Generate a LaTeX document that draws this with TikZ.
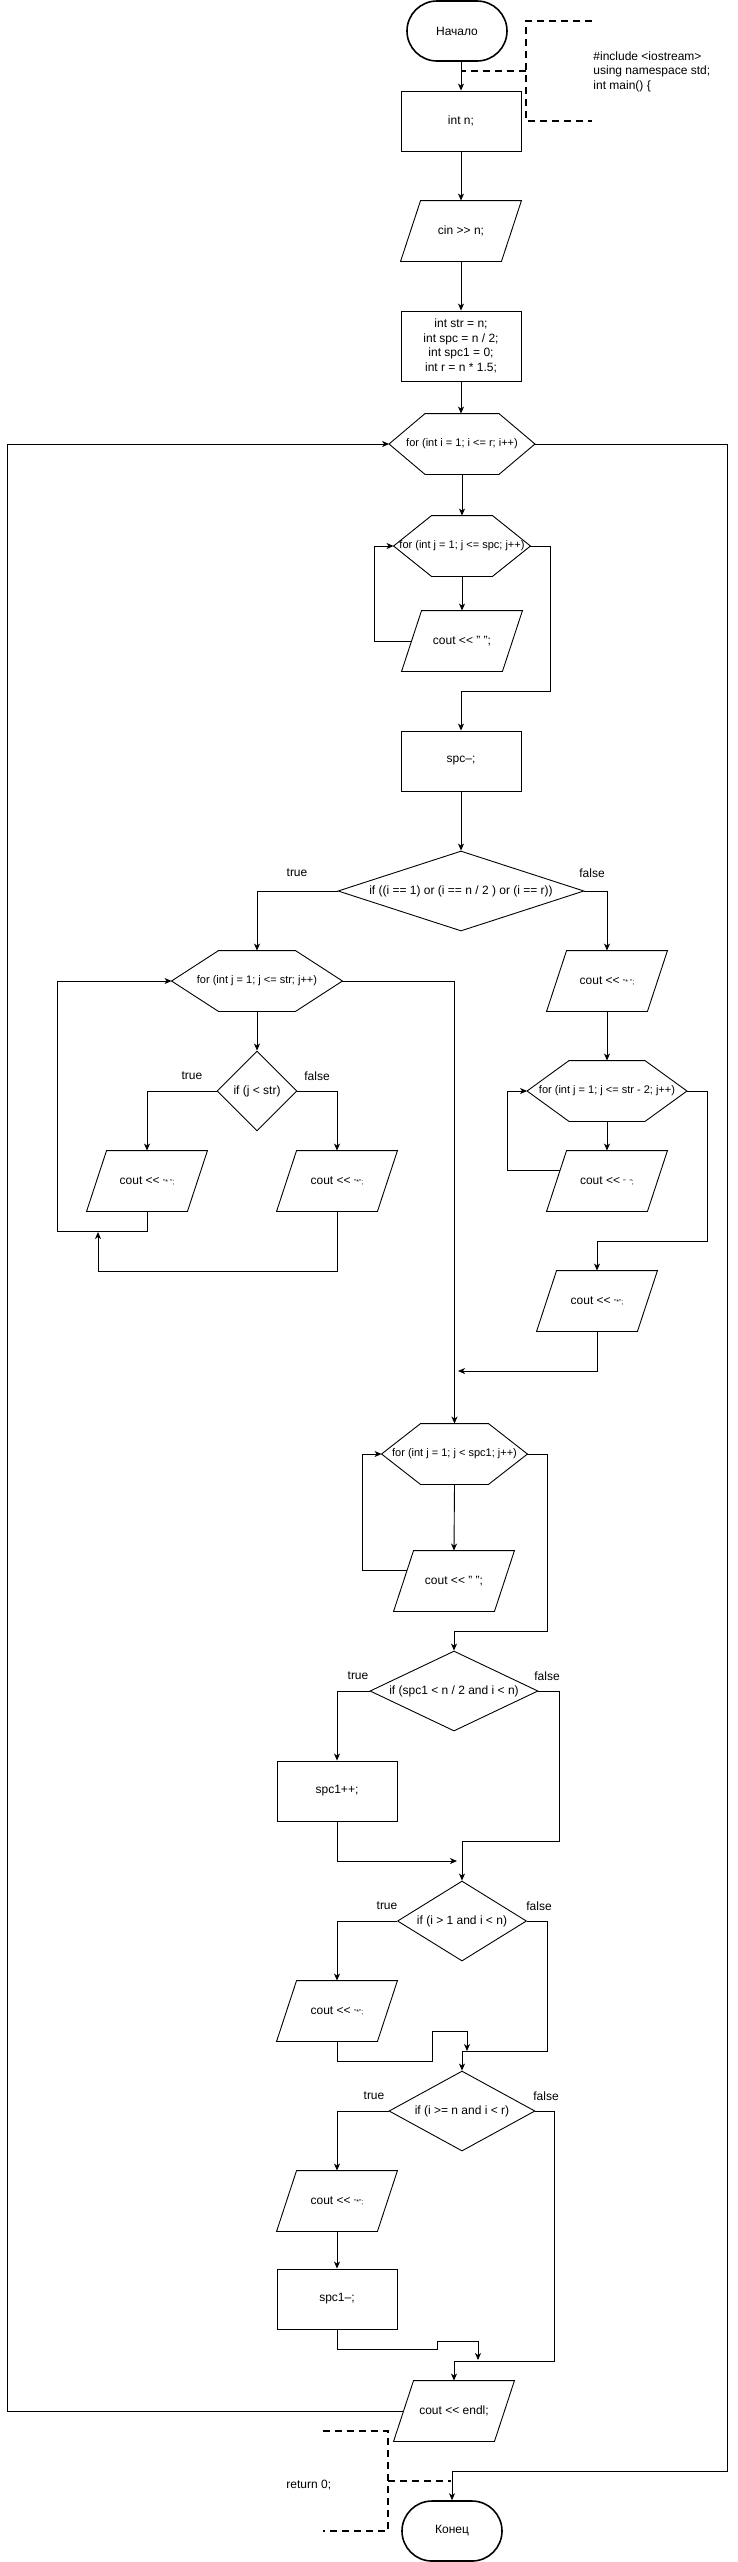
\documentclass[tikz,border=0pt]{standalone}
\usepackage{fontspec}
\setmainfont{Liberation Sans}
\usetikzlibrary{shapes.geometric,arrows.meta,calc}
\newcommand{\smlit}[1]{{\fontsize{7}{8}\selectfont #1}}
\newcommand{\shl}{<\kern0pt<}
\newcommand{\shr}{>\kern0pt>}
\tikzset{
  every node/.style={font=\fontsize{12}{14.5}\selectfont, inner sep=0pt},
  term/.style={draw, rounded corners=30pt, minimum width=100pt, minimum height=60pt, line width=1.6pt},
  proc/.style={draw, minimum width=120pt, minimum height=60pt},
  para/.style={minimum width=120pt, minimum height=60pt},
  hexn/.style={minimum width=#1, minimum height=60pt, font=\fontsize{11}{13}\selectfont},
  dec/.style={draw, diamond},
  arr/.style={-{Stealth[length=7pt,width=6pt,inset=2pt]}},
  dsh/.style={line width=1.8pt, dash pattern=on 7pt off 5pt},
}
\begin{document}
\begin{tikzpicture}[x=1pt,y=-1pt,line width=0.9pt]
\useasboundingbox (0,0) rectangle (738,2562);
% nodes
\node[term] (start) at (457,31) {Начало};
\node[proc] (intn) at (461,121) {int n;};
\node[para] (cin) at (461,231) {cin \shr{} n;};
\node[proc, minimum height=70pt, align=center] (init) at (461,346) {int str = n;\\int spc = n / 2;\\int spc1 = 0;\\int r = n * 1.5;};
\node[hexn=145pt] (fori) at (462,444) {for (int i = 1; i <= r; i++)};
\node[hexn=136pt] (forj1) at (462,546) {for (int j = 1; j <= spc; j++)};
\node[para] (p1) at (462,641) {cout \shl{} " ";};
\node[proc] (spcdec) at (461,761) {spc--;};
\node[dec, minimum width=246pt, minimum height=80pt, aspect=3.075] (d1) at (461,891) {if ((i == 1) or (i == n / 2 ) or (i == r))};
\node[hexn=170pt] (forj2) at (257,981) {for (int j = 1; j <= str; j++)};
\node[dec, minimum width=80pt, minimum height=80pt, aspect=1] (d2) at (257,1091) {if (j < str)};
\node[para] (p2) at (147,1181) {cout \shl{} \smlit{"* ";}};
\node[para] (p3) at (337,1181) {cout \shl{} \smlit{"*";}};
\node[para] (p4) at (607,981) {cout \shl{} \smlit{"* ";}};
\node[hexn=159pt] (forj3) at (607,1091) {for (int j = 1; j <= str - 2; j++)};
\node[para] (p5) at (607,1181) {cout \shl{} \smlit{"~~";}};
\node[para] (p6) at (597,1301) {cout \shl{} \smlit{"*";}};
\node[hexn=145pt] (forj4) at (454.5,1454) {for (int j = 1; j < spc1; j++)};
\node[para] (p7) at (454,1581) {cout \shl{} " ";};
\node[dec, minimum width=168pt, minimum height=80pt, aspect=2.1] (d3) at (454,1691) {if (spc1 < n / 2 and i < n)};
\node[proc] (spcinc) at (337,1791) {spc1++;};
\node[dec, minimum width=129pt, minimum height=80pt, aspect=1.61] (d4) at (462,1921) {if (i > 1 and i < n)};
\node[para] (p8) at (337,2011) {cout \shl{} \smlit{"*";}};
\node[dec, minimum width=146pt, minimum height=80pt, aspect=1.825] (d5) at (462,2111) {if (i >= n and i < r)};
\node[para] (p9) at (337,2201) {cout \shl{} \smlit{"*";}};
\node[proc] (spcdec2) at (337,2299) {spc1--;};
\node[para] (endl) at (454,2411) {cout \shl{} endl;};
\node[term] (end) at (452,2531) {Конец};
% comments
\node[anchor=west, align=left] (inc) at (593,71.5) {\#include <iostream>\\using namespace std;\\int main() \{};
\node[anchor=west] (ret) at (286,2485) {return 0;};
% labels
\node (t1) at (297,873) {true};
\node (f1) at (592,873) {false};
\node (t2) at (192,1076) {true};
\node (f2) at (317,1076) {false};
\node (t3) at (358,1676) {true};
\node (f3) at (547,1676) {false};
\node (t4) at (387,1906) {true};
\node (f4) at (539,1906) {false};
\node (t5) at (374,2096) {true};
\node (f5) at (546,2096) {false};
% shapes drawn around nodes
\foreach \n/\d in {fori/36,forj1/38,forj2/47,forj3/42,forj4/39}
  \draw ([xshift=\d pt]\n.north west) -- ([xshift=-\d pt]\n.north east) -- (\n.east)
     -- ([xshift=-\d pt]\n.south east) -- ([xshift=\d pt]\n.south west) -- (\n.west) -- cycle;
\foreach \n in {cin,p1,p2,p3,p4,p5,p6,p7,p8,p9,endl}
  \draw ([xshift=20pt]\n.north west) -- (\n.north east) -- ([xshift=-20pt]\n.south east) -- (\n.south west) -- cycle;
% connectors
\draw[arr] (start.south -| intn.north) -- (intn.north);
\draw[arr] (intn.south) -- (cin.north);
\draw[arr] (cin.south) -- (init.north);
\draw[arr] (init.south) -- (init.south |- fori.north);
\draw[arr] (fori.south) -- (forj1.north);
\draw[arr] (forj1.south) -- (p1.north);
\draw[arr] ([xshift=10pt]p1.west) -- (374,641) |- (forj1.west);
\draw[arr] (forj1.east) -- (550,546) |- (461,691) -- (spcdec.north);
\draw[arr] (spcdec.south) -- (d1.north);
\draw[arr] (d1.west) -| (forj2.north);
\draw[arr] (d1.east) -| (p4.north);
\draw[arr] (forj2.south) -- (d2.north);
\draw[arr] (d2.west) -| (p2.north);
\draw[arr] (d2.east) -| (p3.north);
\draw[arr] (p2.south) -- (147,1231) -- (57,1231) |- (forj2.west);
\draw[arr] (p3.south) |- (98,1271) -- (98,1232);
\draw[arr] (forj2.east) -| (forj4.north);
\draw[arr] (p4.south) -- (forj3.north);
\draw[arr] (forj3.south) -- (p5.north);
\draw[arr] ([xshift=13.7pt,yshift=11pt]p5.west) -- (507,1170) |- (forj3.west);
\draw[arr] (forj3.east) -| (707,1241) -| (p6.north);
\draw[arr] (p6.south) |- (458,1371);
\draw[arr] (forj4.south) -- (p7.north);
\draw[arr] ([xshift=13.7pt,yshift=11pt]p7.west) -- (362,1570) |- (forj4.west);
\draw[arr] (forj4.east) -| (547,1631) -| (d3.north);
\draw[arr] (d3.west) -| (spcinc.north);
\draw[arr] (d3.east) -| (559,1841) -| (d4.north);
\draw[arr] (spcinc.south) |- (457,1861);
\draw[arr] (d4.west) -| (p8.north);
\draw[arr] (p8.south) |- (432,2061) |- (467,2031) -- (467,2051);
\draw[arr] (d4.east) -| (547,2051) -| (d5.north);
\draw[arr] (d5.west) -| (p9.north);
\draw[arr] (p9.south) -- (spcdec2.north);
\draw[arr] (spcdec2.south) |- (437,2349) |- (478,2341) -- (478,2360);
\draw[arr] (d5.east) -| (554,2361) -| (endl.north);
\draw[arr] ([xshift=10pt]endl.west) -- (7,2411) |- (fori.west);
\draw[arr] (fori.east) -| (727,2471) -| (end.north);
% dashed comment brackets
\draw[dsh] (592,21) -- (526,21) -- (526,121) -- (592,121);
\draw[dsh] (526,71) -- (461,71);
\draw[dsh] (323,2431) -- (388,2431) -- (388,2531) -- (323,2531);
\draw[dsh] (388,2481) -- (451,2481);
\end{tikzpicture}
\end{document}
